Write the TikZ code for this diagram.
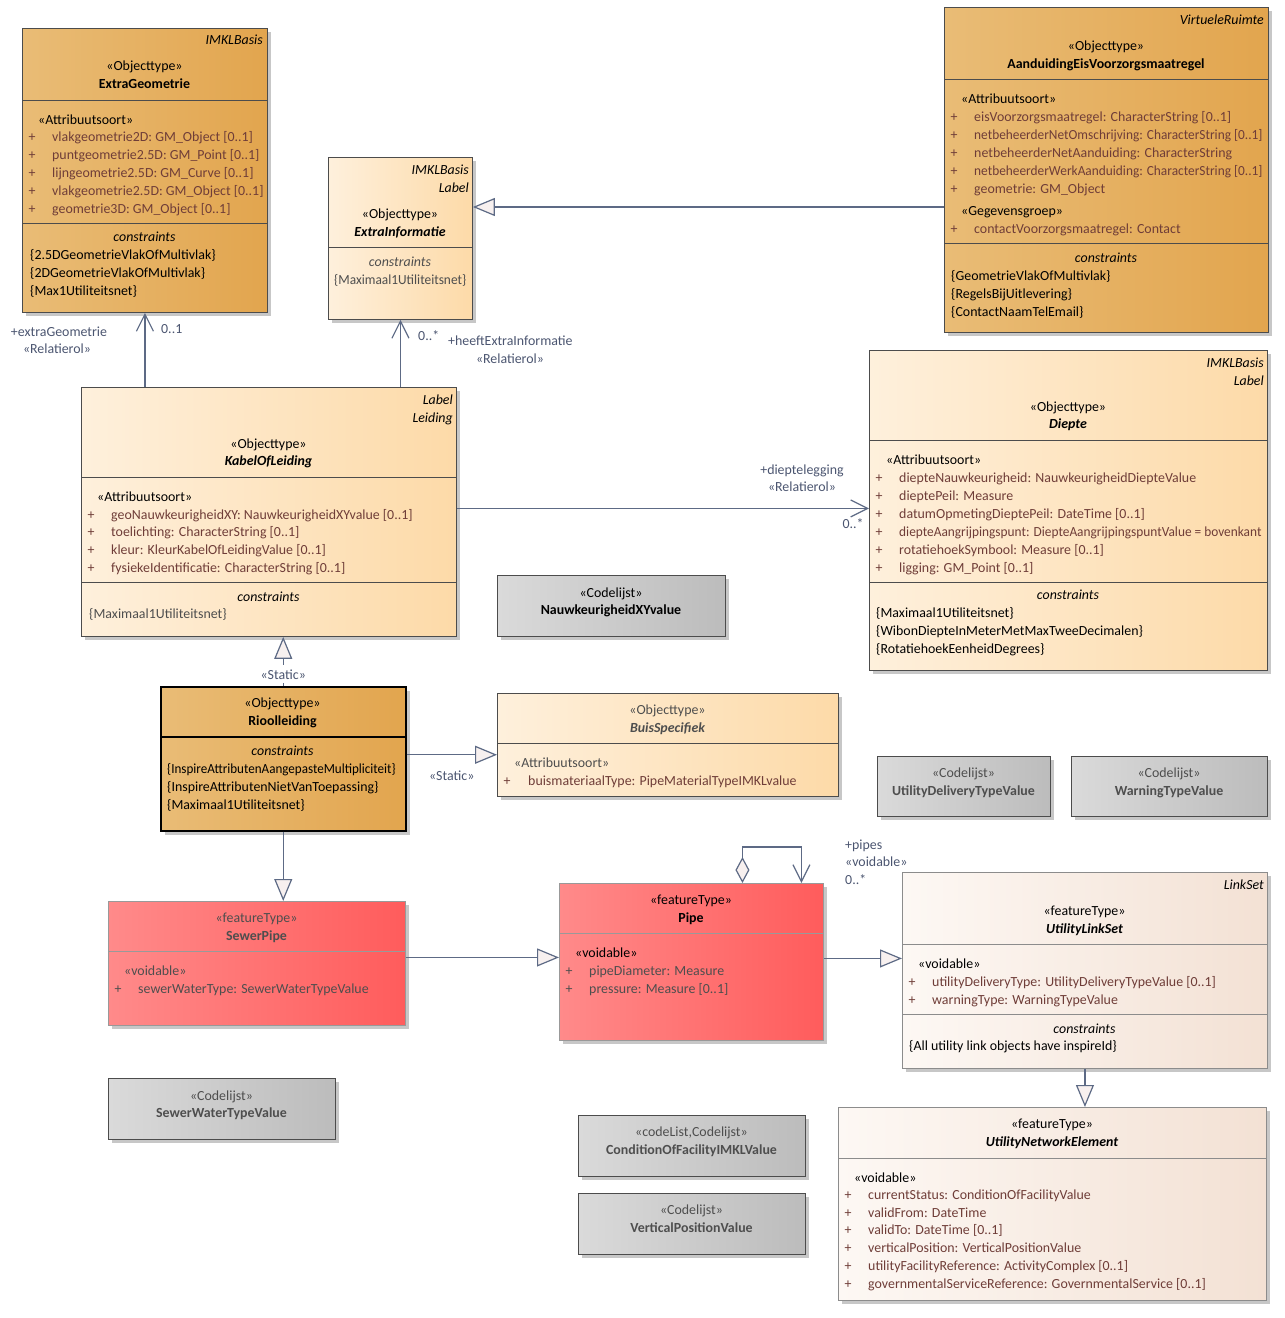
\documentclass[tikz,border=0pt]{standalone}
\usepackage{fontspec}
\setmainfont{Carlito}
\usetikzlibrary{arrows.meta,shadows,positioning}
\definecolor{orD1}{HTML}{E9BC76}\definecolor{orD2}{HTML}{E2A54E}
\definecolor{orL1}{HTML}{FEF0DC}\definecolor{orL2}{HTML}{FDDAA8}
\definecolor{red1}{HTML}{FF8A8A}\definecolor{red2}{HTML}{FF5C5C}
\definecolor{pk1}{HTML}{FDF8F4}\definecolor{pk2}{HTML}{F3E1D4}
\definecolor{gr1}{HTML}{DADADA}\definecolor{gr2}{HTML}{BCBCBC}
\definecolor{lijn}{HTML}{5D6A85}\definecolor{rolkl}{HTML}{4B5570}
\definecolor{attrkl}{HTML}{6F3D38}\definecolor{vaag}{HTML}{4E4E4E}
\definecolor{pijlvul}{HTML}{F7F0EF}
\newcommand\eafont{\fontsize{13.9pt}{16pt}\selectfont}
\newcommand\smal[1]{\scalebox{0.96}[1]{#1}}
\tikzset{
  klasse/.style={draw=black!70,line width=0.9pt,anchor=north west,inner sep=0pt,drop shadow={shadow xshift=4pt,shadow yshift=-4pt,fill=black!22,opacity=1}},
  donker/.style={klasse,left color=orD1,right color=orD2},
  licht/.style={klasse,left color=orL1,right color=orL2},
  rood/.style={klasse,draw=black!40,left color=red1,right color=red2},
  roze/.style={klasse,draw=black!45,left color=pk1,right color=pk2},
  grijs/.style={klasse,left color=gr1,right color=gr2},
  scheid/.style={draw=black!70,line width=0.9pt},
  txt/.style={inner sep=0pt,text height=13pt,text depth=2.5pt,font=\eafont},
  naam/.style={txt,font=\eafont\bfseries},
  abst/.style={txt,font=\eafont\bfseries\itshape},
  pakket/.style={txt,anchor=east,font=\eafont\itshape},
  cons/.style={txt,font=\eafont\itshape},
  regel/.style={txt,anchor=west},
  attr/.style={txt,anchor=west,text=attrkl},
  plus/.style={txt,text=attrkl},
  rol/.style={txt,text=rolkl},
  assoc/.style={draw=lijn,line width=1.2pt,-{Straight Barb[length=17pt,width=17pt]}},
  overerv/.style={draw=lijn,line width=1.2pt,-{Triangle[length=22pt,width=18pt,fill=pijlvul]}}
}
\begin{document}
\begin{tikzpicture}[x=1pt,y=-1pt]
\useasboundingbox (0,0) rectangle (1285,1318);
% ExtraGeometrie
\node[donker,minimum width=245pt,minimum height=284pt] (xgeo) at (22,28) {};
\draw[scheid] (22,100) -- ++(245,0); \draw[scheid] (22,223) -- ++(245,0);
\node[pakket] (xgeo-p) at (263,39) {IMKLBasis}; \node[txt] (xgeo-s) at (144.5,65) {«Objecttype»}; \node[naam] (xgeo-n) at (144.5,83) {ExtraGeometrie};
\node[regel] (xgeo-g) at (38,119) {«Attribuutsoort»};
\foreach \t [count=\i from 0] in {vlakgeometrie2D: GM\_Object [0..1],puntgeometrie2.5D: GM\_Point [0..1],lijngeometrie2.5D: GM\_Curve [0..1],vlakgeometrie2.5D: GM\_Object [0..1],geometrie3D: GM\_Object [0..1]}
  {\node[plus] (xgeo-p\i) at (32,136+18*\i) {+}; \node[attr] (xgeo-a\i) at (52,136+18*\i) {\t};}
\node[cons] (xgeo-c) at (144.5,236) {constraints};
\foreach \t [count=\i from 0] in {\{2.5DGeometrieVlakOfMultivlak\},\{2DGeometrieVlakOfMultivlak\},\{Max1Utiliteitsnet\}}
  {\node[regel] (xgeo-r\i) at (30,254+18*\i) {\t};}
% ExtraInformatie
\node[licht,minimum width=144pt,minimum height=162pt] (xinfo) at (328,157) {};
\draw[scheid] (328,247) -- ++(144,0);
\node[pakket] (xinfo-p) at (469,169) {IMKLBasis}; \node[pakket] (xinfo-q) at (469,187) {Label};
\node[txt] (xinfo-s) at (400,213) {«Objecttype»}; \node[abst] (xinfo-n) at (400,231) {ExtraInformatie};
\node[cons,text=vaag] (xinfo-c) at (400,261) {constraints}; \node[regel,text=vaag] (xinfo-r0) at (334,279) {\smal{\{Maximaal1Utiliteitsnet\}}};
% AanduidingEisVoorzorgsmaatregel
\node[donker,minimum width=324pt,minimum height=325pt] (aand) at (944,7) {};
\draw[scheid] (944,79) -- ++(324,0); \draw[scheid] (944,243) -- ++(324,0);
\node[pakket] (aand-p) at (1264,19) {VirtueleRuimte}; \node[txt] (aand-s) at (1106,45) {«Objecttype»}; \node[naam] (aand-n) at (1106,63) {AanduidingEisVoorzorgsmaatregel};
\node[regel] (aand-g) at (961,98) {«Attribuutsoort»};
\foreach \t [count=\i from 0] in {eisVoorzorgsmaatregel: CharacterString [0..1],\smal{netbeheerderNetOmschrijving: CharacterString [0..1]},netbeheerderNetAanduiding: CharacterString,\smal{netbeheerderWerkAanduiding: CharacterString [0..1]},geometrie: GM\_Object}
  {\node[plus] (aand-p\i) at (954,116+18*\i) {+}; \node[attr] (aand-a\i) at (974,116+18*\i) {\t};}
\node[regel] (aand-h) at (961,210) {«Gegevensgroep»}; \node[plus] (aand-p5) at (954,228) {+}; \node[attr] (aand-a5) at (974,228) {contactVoorzorgsmaatregel: Contact};
\node[cons] (aand-c) at (1106,257) {constraints};
\foreach \t [count=\i from 0] in {\{GeometrieVlakOfMultivlak\},\{RegelsBijUitlevering\},\{ContactNaamTelEmail\}}
  {\node[regel] (aand-r\i) at (951,275+18*\i) {\t};}
% KabelOfLeiding
\node[licht,minimum width=375pt,minimum height=249pt] (kabel) at (81,387) {};
\draw[scheid] (81,477) -- ++(375,0); \draw[scheid] (81,582) -- ++(375,0);
\node[pakket] (kabel-p) at (453,399) {Label}; \node[pakket] (kabel-q) at (453,417) {Leiding};
\node[txt] (kabel-s) at (268.5,443) {«Objecttype»}; \node[abst] (kabel-n) at (268.5,460) {KabelOfLeiding};
\node[regel] (kabel-g) at (97,496) {«Attribuutsoort»};
\foreach \t [count=\i from 0] in {geoNauwkeurigheidXY: NauwkeurigheidXYvalue [0..1],toelichting: CharacterString [0..1],kleur: KleurKabelOfLeidingValue [0..1],fysiekeIdentificatie: CharacterString [0..1]}
  {\node[plus] (kabel-p\i) at (91,514+17.7*\i) {+}; \node[attr] (kabel-a\i) at (111,514+17.7*\i) {\t};}
\node[cons] (kabel-c) at (268.5,596) {constraints}; \node[regel,text=vaag] (kabel-r0) at (89,613) {\{Maximaal1Utiliteitsnet\}};
% Diepte
\node[licht,minimum width=398pt,minimum height=320pt] (diepte) at (869,350) {};
\draw[scheid] (869,440) -- ++(398,0); \draw[scheid] (869,582) -- ++(398,0);
\node[pakket] (diepte-p) at (1264,362) {IMKLBasis}; \node[pakket] (diepte-q) at (1264,380) {Label};
\node[txt] (diepte-s) at (1068,406) {«Objecttype»}; \node[abst] (diepte-n) at (1068,423) {Diepte};
\node[regel] (diepte-g) at (886,459) {«Attribuutsoort»};
\foreach \t [count=\i from 0] in {diepteNauwkeurigheid: NauwkeurigheidDiepteValue,dieptePeil: Measure,datumOpmetingDieptePeil: DateTime [0..1],\smal{diepteAangrijpingspunt: DiepteAangrijpingspuntValue = bovenkant},rotatiehoekSymbool: Measure [0..1],ligging: GM\_Point [0..1]}
  {\node[plus] (diepte-p\i) at (879,477+18*\i) {+}; \node[attr] (diepte-a\i) at (899,477+18*\i) {\t};}
\node[cons] (diepte-c) at (1068,594) {constraints};
\foreach \t [count=\i from 0] in {\{Maximaal1Utiliteitsnet\},\{WibonDiepteInMeterMetMaxTweeDecimalen\},\{RotatiehoekEenheidDegrees\}}
  {\node[regel] (diepte-r\i) at (876,612+18*\i) {\t};}
% codelijsten
\node[grijs,minimum width=228pt,minimum height=61pt] (nauw) at (497,575) {};
\node[txt] (nauw-s) at (611,592) {«Codelijst»}; \node[naam] (nauw-n) at (611,609) {NauwkeurigheidXYvalue};
\node[grijs,minimum width=173pt,minimum height=60pt] (udtv) at (877,756) {};
\node[txt,text=vaag] (udtv-s) at (963.5,772) {«Codelijst»}; \node[naam,text=vaag] (udtv-n) at (963.5,790) {UtilityDeliveryTypeValue};
\node[grijs,minimum width=196pt,minimum height=60pt] (wtv) at (1071,756) {};
\node[txt,text=vaag] (wtv-s) at (1169,772) {«Codelijst»}; \node[naam,text=vaag] (wtv-n) at (1169,790) {WarningTypeValue};
\node[grijs,minimum width=227pt,minimum height=61pt] (swtv) at (108,1078) {};
\node[txt,text=vaag] (swtv-s) at (221.5,1095) {«Codelijst»}; \node[naam,text=vaag] (swtv-n) at (221.5,1112) {SewerWaterTypeValue};
\node[grijs,minimum width=227pt,minimum height=61pt] (cof) at (578,1115) {};
\node[txt,text=vaag] (cof-s) at (691.5,1131) {«codeList,Codelijst»}; \node[naam,text=vaag] (cof-n) at (691.5,1149) {ConditionOfFacilityIMKLValue};
\node[grijs,minimum width=227pt,minimum height=61pt] (vpv) at (578,1193) {};
\node[txt,text=vaag] (vpv-s) at (691.5,1209) {«Codelijst»}; \node[naam,text=vaag] (vpv-n) at (691.5,1227) {VerticalPositionValue};
% Rioolleiding
\node[donker,draw=black,line width=1.5pt,minimum width=245pt,minimum height=144pt] (riool) at (160,686) {};
\draw[scheid,draw=black,line width=1.3pt] (160,737) -- ++(245,0);
\node[txt] (riool-s) at (282.5,702) {«Objecttype»}; \node[naam] (riool-n) at (282.5,720) {Rioolleiding};
\node[cons] (riool-c) at (282.5,750) {constraints};
\foreach \t [count=\i from 0] in {\scalebox{0.94}[1]{\{InspireAttributenAangepasteMultipliciteit\}},\{InspireAttributenNietVanToepassing\},\{Maximaal1Utiliteitsnet\}}
  {\node[regel] (riool-r\i) at (167,768+18*\i) {\t};}
% BuisSpecifiek
\node[licht,minimum width=341pt,minimum height=103pt] (buis) at (497,693) {};
\draw[scheid] (497,743) -- ++(341,0);
\node[txt,text=vaag] (buis-s) at (667.5,709) {«Objecttype»}; \node[abst,text=vaag] (buis-n) at (667.5,727) {BuisSpecifiek};
\node[regel,text=vaag] (buis-g) at (514,762) {«Attribuutsoort»}; \node[plus] (buis-p0) at (507,780) {+}; \node[attr] (buis-a0) at (528,780) {buismateriaalType: PipeMaterialTypeIMKLvalue};
% SewerPipe
\node[rood,minimum width=297pt,minimum height=124pt] (sewer) at (108,901) {};
\draw[scheid,draw=black!40] (108,951) -- ++(297,0);
\node[txt,text=vaag] (sewer-s) at (256.5,917) {«featureType»}; \node[naam,text=vaag] (sewer-n) at (256.5,935) {SewerPipe};
\node[regel,text=vaag] (sewer-g) at (124,970) {«voidable»}; \node[plus,text=vaag] (sewer-p0) at (118,988) {+}; \node[attr,text=vaag] (sewer-a0) at (138,988) {sewerWaterType: SewerWaterTypeValue};
% Pipe
\node[rood,minimum width=264pt,minimum height=157pt] (pipe) at (559,883) {};
\draw[scheid,draw=black!40] (559,933) -- ++(264,0);
\node[txt] (pipe-s) at (691,899) {«featureType»}; \node[naam] (pipe-n) at (691,917) {Pipe};
\node[regel] (pipe-g) at (575,952) {«voidable»};
\foreach \t [count=\i from 0] in {pipeDiameter: Measure,pressure: Measure [0..1]}
  {\node[plus,text=vaag] (pipe-p\i) at (569,970+18*\i) {+}; \node[attr,text=vaag] (pipe-a\i) at (589,970+18*\i) {\t};}
% UtilityLinkSet
\node[roze,minimum width=365pt,minimum height=196pt] (uls) at (902,872) {};
\draw[scheid,draw=black!45] (902,944) -- ++(365,0); \draw[scheid,draw=black!45] (902,1014) -- ++(365,0);
\node[pakket] (uls-p) at (1264,884) {LinkSet}; \node[txt] (uls-s) at (1084.5,910) {«featureType»}; \node[abst] (uls-n) at (1084.5,928) {UtilityLinkSet};
\node[regel] (uls-g) at (918,963) {«voidable»};
\foreach \t [count=\i from 0] in {utilityDeliveryType: UtilityDeliveryTypeValue [0..1],warningType: WarningTypeValue}
  {\node[plus] (uls-p\i) at (912,981+18*\i) {+}; \node[attr] (uls-a\i) at (932,981+18*\i) {\t};}
\node[cons] (uls-c) at (1084.5,1028) {constraints}; \node[regel] (uls-r0) at (909,1045) {\{All utility link objects have inspireId\}};
% UtilityNetworkElement
\node[roze,minimum width=428pt,minimum height=193pt] (une) at (838,1107) {};
\draw[scheid,draw=black!45] (838,1158) -- ++(428,0);
\node[txt] (une-s) at (1052,1123) {«featureType»}; \node[abst] (une-n) at (1052,1141) {UtilityNetworkElement};
\node[regel] (une-g) at (854,1177) {«voidable»};
\foreach \t [count=\i from 0] in {currentStatus: ConditionOfFacilityValue,validFrom: DateTime,validTo: DateTime [0..1],verticalPosition: VerticalPositionValue,utilityFacilityReference: ActivityComplex [0..1],governmentalServiceReference: GovernmentalService [0..1]}
  {\node[plus] (une-p\i) at (848,1194+17.8*\i) {+}; \node[attr] (une-a\i) at (868,1194+17.8*\i) {\t};}
% verbindingen
\coordinate (gen) at (700,207);
\draw[assoc] (kabel.north -| xgeo.south) -- (xgeo.south);
\draw[assoc] (kabel.north -| xinfo.south) -- (xinfo.south);
\draw[overerv] (gen -| aand.west) -- (gen -| xinfo.east);
\draw[assoc] ([yshift=3.5pt]kabel.east) -- ([yshift=3.5pt]kabel.east -| diepte.west);
\draw[overerv] (riool.north) -- (riool.north |- kabel.south) node[rol,pos=0.24,fill=white,inner ysep=1pt] (st1) {«Static»};
\draw[overerv] ([yshift=4pt]riool.east) -- ([yshift=4pt]riool.east -| buis.west) node[rol,midway,below=12pt] (st2) {«Static»};
\draw[overerv] (riool.south) -- (riool.south |- sewer.north);
\draw[overerv] ([yshift=6pt]sewer.east) -- ([yshift=6pt]sewer.east -| pipe.west);
\draw[overerv] ([yshift=3.5pt]pipe.east) -- ([yshift=3.5pt]pipe.east -| uls.west);
\draw[overerv] (uls.south) -- (uls.south |- une.north);
\draw[assoc,{Diamond[length=26pt,width=14pt,fill=pijlvul]}-{Straight Barb[length=17pt,width=17pt]}] ([xshift=51pt]pipe.north) -- ++(0,-36) -| ([xshift=110pt]pipe.north);
\node[rol] (l1) at (59,331) {+extraGeometrie}; \node[rol] (l2) at (57,348) {«Relatierol»}; \node[rol,anchor=west] (l3) at (161,328) {0..1};
\node[rol,anchor=west] (l4) at (418,335) {0..*}; \node[rol,anchor=west] (l5) at (448,340) {+heeftExtraInformatie}; \node[rol] (l6) at (510,358) {«Relatierol»};
\node[rol] (l7) at (802,469) {+dieptelegging}; \node[rol] (l8) at (802,486) {«Relatierol»}; \node[rol] (l9) at (853,523) {0..*};
\node[rol,anchor=west] (l10) at (845,844) {+pipes}; \node[rol,anchor=west] (l11) at (845,861) {«voidable»}; \node[rol,anchor=west] (l12) at (845,879) {0..*};
\end{tikzpicture}
\end{document}
